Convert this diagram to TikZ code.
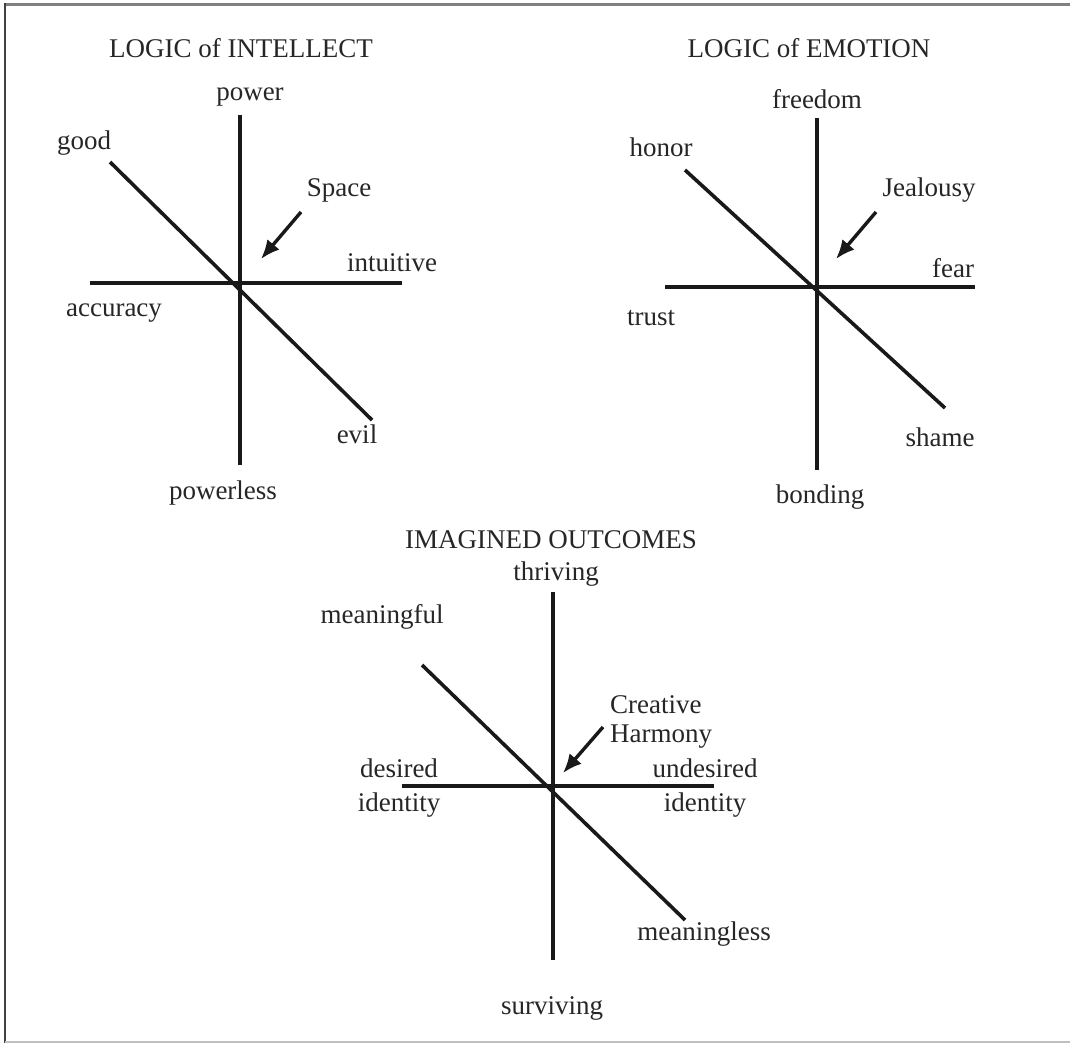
\documentclass[tikz,border=0pt]{standalone}
\usepackage{fontspec}
\setmainfont{Liberation Serif}
\usepackage{xcolor}
\usetikzlibrary{arrows.meta,positioning}
\tikzset{>={Latex[length=19pt,width=16pt]}}
\tikzset{
	axis/.style={line width=3.6pt, draw=black!90},
	pointer/.style={line width=3.4pt, draw=black!90, ->},
	word/.style={inner sep=0pt, text=black!85, font=\fontsize{27}{31}\selectfont},
	heading/.style={word, font=\fontsize{27}{31}\selectfont}
}

\begin{document}
\begin{tikzpicture}[x=1pt, y=-1pt]
	\useasboundingbox (0,0) rectangle (1070,1045);
	% frame
	\draw[line width=3pt, black!50] (5,4) -- (1070,4);
	\draw[line width=2.5pt, black!75] (5,3) -- (5,1043);
	\draw[line width=2pt, black!25] (5,1042) -- (1070,1042);

	% logic of intellect
	\node[heading] (int-title) at (241,48) {LOGIC of INTELLECT};
	\coordinate (int-n) at (240,115);
	\coordinate (int-s) at (240,465);
	\coordinate (int-w) at (90,283);
	\coordinate (int-e) at (402,283);
	\coordinate (int-nw) at (110,162);
	\coordinate (int-se) at (372,420);
	\draw[axis] (int-n) -- (int-s);
	\draw[axis] (int-w) -- (int-e);
	\draw[axis] (int-nw) -- (int-se);
	\node[word] (power) at (250,97) {power};
	\node[word] (good) at (84,143) {good};
	\node[word] (space) at (339,190) {Space};
	\node[word] (intuitive) at (392,263) {intuitive};
	\node[word] (accuracy) at (114,313) {accuracy};
	\node[word] (evil) at (357,434) {evil};
	\node[word] (powerless) at (223,493) {powerless};
	\coordinate (space-from) at (301,212);
	\coordinate (space-to) at (261,259);
	\draw[pointer] (space-from) -- (space-to);

	% logic of emotion
	\node[heading] (emo-title) at (809,48) {LOGIC of EMOTION};
	\coordinate (emo-n) at (817,118);
	\coordinate (emo-s) at (817,470);
	\coordinate (emo-w) at (665,287);
	\coordinate (emo-e) at (975,287);
	\coordinate (emo-nw) at (685,170);
	\coordinate (emo-se) at (945,408);
	\draw[axis] (emo-n) -- (emo-s);
	\draw[axis] (emo-w) -- (emo-e);
	\draw[axis] (emo-nw) -- (emo-se);
	\node[word] (freedom) at (817,99) {freedom};
	\node[word] (honor) at (661,147) {honor};
	\node[word] (jealousy) at (929,190) {Jealousy};
	\node[word] (fear) at (953,268) {fear};
	\node[word] (trust) at (651,318) {trust};
	\node[word] (shame) at (940,437) {shame};
	\node[word] (bonding) at (820,497) {bonding};
	\coordinate (jealousy-from) at (876,212);
	\coordinate (jealousy-to) at (836,259);
	\draw[pointer] (jealousy-from) -- (jealousy-to);

	% imagined outcomes
	\node[heading] (out-title) at (551,540) {IMAGINED OUTCOMES};
	\coordinate (out-n) at (553,592);
	\coordinate (out-s) at (553,960);
	\coordinate (out-w) at (402,786);
	\coordinate (out-e) at (714,786);
	\coordinate (out-nw) at (422,665);
	\coordinate (out-se) at (685,920);
	\draw[axis] (out-n) -- (out-s);
	\draw[axis] (out-w) -- (out-e);
	\draw[axis] (out-nw) -- (out-se);
	\node[word] (thriving) at (556,574) {thriving};
	\node[word] (meaningful) at (382,617) {meaningful};
	\node[word, anchor=west] (creative) at (610,705) {Creative};
	\node[word, anchor=west] (harmony) at (610,737) {Harmony};
	\node[word] (desired) at (399,768) {desired};
	\node[word] (desired-id) at (399,805) {identity};
	\node[word] (undesired) at (705,768) {undesired};
	\node[word] (undesired-id) at (705,805) {identity};
	\node[word] (meaningless) at (704,934) {meaningless};
	\node[word] (surviving) at (552,1008) {surviving};
	\coordinate (harmony-from) at (603,727);
	\coordinate (harmony-to) at (563,773);
	\draw[pointer] (harmony-from) -- (harmony-to);
\end{tikzpicture}
\end{document}
